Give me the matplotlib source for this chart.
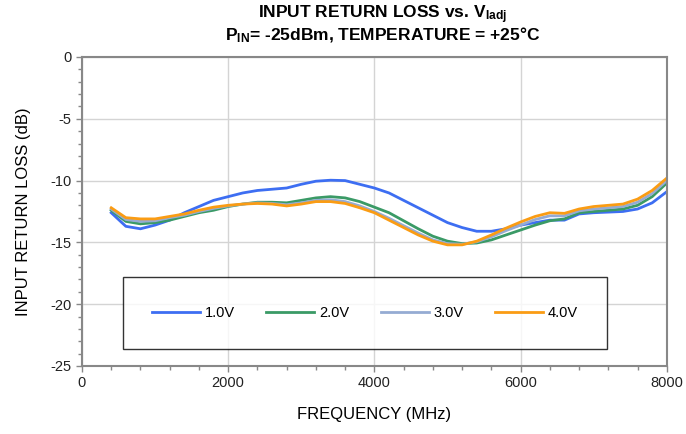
import numpy as np
import matplotlib
matplotlib.use("Agg")
import matplotlib.pyplot as plt
from matplotlib.ticker import MultipleLocator

plt.rcParams["font.family"] = ["Liberation Sans", "DejaVu Sans"]
plt.rcParams["mathtext.fontset"] = "custom"
plt.rcParams["mathtext.rm"] = "Liberation Sans"
plt.rcParams["mathtext.bf"] = "Liberation Sans:bold"
plt.rcParams["mathtext.default"] = "bf"
plt.rcParams["axes.unicode_minus"] = False

# -----------------------------
# Data
# -----------------------------
freq_mhz = [400, 600, 800, 1000, 1200, 1400, 1600, 1800, 2000, 2200,
            2400, 2600, 2800, 3000, 3200, 3400, 3600, 3800, 4000, 4200,
            4400, 4600, 4800, 5000, 5200, 5400, 5600, 5800, 6000, 6200,
            6400, 6600, 6800, 7000, 7200, 7400, 7600, 7800, 8000]

rl_1v0 = [-12.6, -13.7, -13.9, -13.6, -13.2, -12.6, -12.1, -11.6, -11.3, -11.0,
          -10.8, -10.7, -10.6, -10.3, -10.05, -9.97, -10.0, -10.3, -10.6, -11.0,
          -11.6, -12.2, -12.8, -13.4, -13.8, -14.1, -14.1, -13.9, -13.6, -13.4,
          -13.2, -13.2, -12.7, -12.6, -12.55, -12.5, -12.3, -11.8, -10.9]

rl_2v0 = [-12.4, -13.3, -13.5, -13.4, -13.2, -12.9, -12.6, -12.4, -12.1, -11.9,
          -11.75, -11.75, -11.8, -11.6, -11.4, -11.3, -11.4, -11.7, -12.15, -12.6,
          -13.25, -13.9, -14.5, -14.9, -15.1, -15.05, -14.8, -14.4, -14.0, -13.6,
          -13.25, -13.1, -12.6, -12.5, -12.4, -12.3, -12.0, -11.3, -10.2]

rl_3v0 = [-12.3, -13.15, -13.3, -13.25, -13.0, -12.8, -12.5, -12.25, -12.05, -11.9,
          -11.8, -11.85, -11.95, -11.8, -11.6, -11.55, -11.7, -12.05, -12.5, -13.05,
          -13.65, -14.25, -14.8, -15.1, -15.15, -14.95, -14.55, -14.05, -13.6, -13.15,
          -12.85, -12.85, -12.45, -12.3, -12.2, -12.1, -11.75, -11.05, -10.0]

rl_4v0 = [-12.2, -13.0, -13.1, -13.1, -12.9, -12.7, -12.4, -12.15, -12.0, -11.9,
          -11.85, -11.9, -12.05, -11.9, -11.7, -11.7, -11.85, -12.2, -12.6, -13.2,
          -13.8, -14.4, -14.9, -15.2, -15.2, -14.9, -14.4, -13.85, -13.35, -12.9,
          -12.6, -12.65, -12.3, -12.1, -12.0, -11.9, -11.5, -10.8, -9.8]

series = [
    ("1.0V", rl_1v0, "#3d6ef2"),
    ("2.0V", rl_2v0, "#3a9a66"),
    ("3.0V", rl_3v0, "#95abd3"),
    ("4.0V", rl_4v0, "#fa9c14"),
]

# -----------------------------
# Plot
# -----------------------------
fig = plt.figure(figsize=(6.86, 4.34), dpi=100)
ax = fig.add_axes([0.1195, 0.1567, 0.8525, 0.712])

for label, vals, color in series:
    ax.plot(freq_mhz, vals, color=color, lw=2.0, label=label)

ax.set_xlim(0, 8000)
ax.set_ylim(-25, 0)
ax.xaxis.set_major_locator(MultipleLocator(2000))
ax.xaxis.set_minor_locator(MultipleLocator(400))
ax.yaxis.set_major_locator(MultipleLocator(5))
ax.yaxis.set_minor_locator(MultipleLocator(1))
ax.grid(True, which="major", color="#d4d4d4", lw=1.0)
ax.set_axisbelow(True)

for side in ["left", "right", "top", "bottom"]:
    ax.spines[side].set_color("#888888")
    ax.spines[side].set_linewidth(1.5)
ax.tick_params(which="both", direction="out", color="#888888", labelsize=10.5,
               labelcolor="#222222")
ax.tick_params(which="major", length=4, width=1.0)
ax.tick_params(which="minor", length=3, width=1.0)

ax.set_xlabel("FREQUENCY (MHz)", fontsize=12, labelpad=12)
ax.set_ylabel("INPUT RETURN LOSS (dB)", fontsize=12, labelpad=14)

fig.text(0.558, 0.966, "INPUT RETURN LOSS vs. V$_{Iadj}$", ha="center",
         va="center", fontsize=12.5, fontweight="bold")
fig.text(0.558, 0.918, "P$_{IN}$= -25dBm, TEMPERATURE = +25\u00b0C", ha="center",
         va="center", fontsize=12.5, fontweight="bold")

leg = ax.legend(loc="lower left", bbox_to_anchor=(0.070, 0.055, 0.827, 0.23),
                mode="expand", ncol=4, fontsize=10.5, frameon=True, fancybox=False,
                handlelength=3.3, handletextpad=0.3, borderaxespad=0,
                borderpad=2.0)
leg.get_frame().set_edgecolor("#000000")
leg.get_frame().set_linewidth(1.0)

plt.savefig("out.png", dpi=100)
